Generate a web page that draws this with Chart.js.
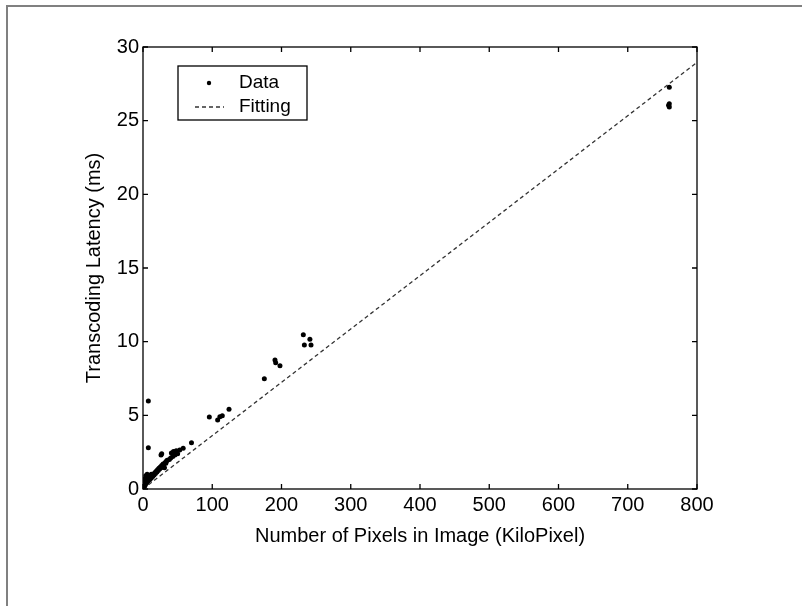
<!DOCTYPE html>
<html>
<head>
<meta charset="utf-8">
<script src="https://cdn.jsdelivr.net/npm/chart.js@4/dist/chart.umd.min.js"></script>
<style>
  html, body { margin: 0; padding: 0; background: #fff; }
  #wrap { width: 802px; height: 606px; }
</style>
</head>
<body>
<div id="wrap"><canvas id="myChart" width="802" height="606"></canvas></div>
<script>
// measured points (KiloPixel, ms)
const dataX = [0.5, 1, 1.5, 2, 2, 2.5, 3, 3, 3.5, 4, 4, 5, 5, 5.5, 6, 6, 7, 7, 8, 8,
  9, 10, 10, 11, 12, 12, 13, 14, 15, 16, 17, 18, 19, 20, 21, 22, 23, 24, 25, 26,
  27, 28, 29, 30, 31, 32, 33, 34, 35, 26, 27, 38, 40, 41, 43, 44, 46, 48, 50, 53,
  58, 70, 7.7, 7.7, 95.8, 107.8, 111, 114.5, 124.2, 175.2, 190.6, 191.6, 197.8,
  231.5, 241, 233, 242.6, 760, 759, 760, 760];
const dataY = [0.1, 0.15, 0.2, 0.3, 0.5, 0.2, 0.4, 0.7, 0.3, 0.5, 0.9, 0.4, 0.6, 0.8, 0.5, 1.0, 0.55, 0.75, 0.6, 0.9,
  0.7, 0.65, 0.9, 0.8, 0.75, 1.0, 0.9, 0.85, 1.0, 0.95, 1.1, 1.05, 1.2, 1.15, 1.3, 1.25, 1.4, 1.35, 1.5, 1.45,
  1.6, 1.55, 1.7, 1.65, 1.45, 1.8, 1.75, 1.9, 1.95, 2.3, 2.4, 2.0, 2.1, 2.45, 2.2, 2.55, 2.3, 2.6, 2.4, 2.65,
  2.76, 3.14, 2.8, 5.97, 4.89, 4.68, 4.91, 4.98, 5.41, 7.49, 8.76, 8.57, 8.37,
  10.47, 10.16, 9.77, 9.77, 27.27, 26.05, 25.92, 26.15];

// linear fitting line end points
const fitX = [0, 800];
const fitY = [0, 28.96];

const xTicks = [0, 100, 200, 300, 400, 500, 600, 700, 800];
const yTicks = [0, 5, 10, 15, 20, 25, 30];

const FONT = "'Liberation Sans', Arial, Helvetica, sans-serif";

const scatterPts = dataX.map((x, i) => ({x: x, y: dataY[i]}));
const fitPts = fitX.map((x, i) => ({x: x, y: fitY[i]}));

// grey frame of the scanned figure
const framePlugin = {
  id: 'frame',
  beforeDraw(chart) {
    const ctx = chart.ctx;
    ctx.save();
    ctx.fillStyle = '#fff';
    ctx.fillRect(0, 0, chart.width, chart.height);
    ctx.strokeStyle = '#808080';
    ctx.lineWidth = 2;
    ctx.beginPath();
    ctx.moveTo(7, chart.height);
    ctx.lineTo(7, 6);
    ctx.lineTo(chart.width, 6);
    ctx.stroke();
    ctx.restore();
  }
};

// matlab style box with inward ticks
const boxPlugin = {
  id: 'box',
  afterDatasetsDraw(chart) {
    const ctx = chart.ctx;
    const a = chart.chartArea;
    const xs = chart.scales.x, ys = chart.scales.y;
    ctx.save();
    ctx.strokeStyle = '#000';
    ctx.lineWidth = 1.3;
    ctx.strokeRect(a.left, a.top, a.right - a.left, a.bottom - a.top);
    ctx.beginPath();
    xTicks.forEach(v => {
      const px = xs.getPixelForValue(v);
      ctx.moveTo(px, a.bottom); ctx.lineTo(px, a.bottom - 5);
      ctx.moveTo(px, a.top); ctx.lineTo(px, a.top + 5);
    });
    yTicks.forEach(v => {
      const py = ys.getPixelForValue(v);
      ctx.moveTo(a.left, py); ctx.lineTo(a.left + 5, py);
      ctx.moveTo(a.right, py); ctx.lineTo(a.right - 5, py);
    });
    ctx.stroke();
    ctx.restore();
  }
};

// legend box in the upper left corner
const legendPlugin = {
  id: 'boxLegend',
  afterDraw(chart) {
    const ctx = chart.ctx;
    const ds = chart.data.datasets;
    ctx.save();
    ctx.fillStyle = '#fff';
    ctx.fillRect(178, 66, 129, 54);
    ctx.strokeStyle = '#000';
    ctx.lineWidth = 1.3;
    ctx.strokeRect(178, 66, 129, 54);
    ctx.fillStyle = '#000';
    ctx.beginPath();
    ctx.arc(209, 83, 2.2, 0, Math.PI * 2);
    ctx.fill();
    ctx.strokeStyle = '#333';
    ctx.lineWidth = 1.3;
    ctx.setLineDash([4, 3]);
    ctx.beginPath();
    ctx.moveTo(195, 107); ctx.lineTo(224, 107);
    ctx.stroke();
    ctx.setLineDash([]);
    ctx.font = '19px ' + FONT;
    ctx.textBaseline = 'middle';
    ctx.fillText(ds[0].label, 239, 83);
    ctx.fillText(ds[1].label, 239, 107);
    ctx.restore();
  }
};

const ctx = document.getElementById('myChart').getContext('2d');

new Chart(ctx, {
  type: 'scatter',
  data: {
    datasets: [{
      label: 'Data',
      data: scatterPts,
      backgroundColor: '#000',
      borderColor: '#000',
      pointRadius: 2.5,
      pointBorderWidth: 0
    }, {
      label: 'Fitting',
      type: 'line',
      data: fitPts,
      borderColor: '#333',
      borderWidth: 1.3,
      borderDash: [4, 3],
      pointRadius: 0,
      fill: false
    }]
  },
  options: {
    responsive: false,
    animation: false,
    layout: { padding: { left: 0, right: 105, top: 47, bottom: 0 } },
    plugins: {
      legend: { display: false },
      tooltip: { enabled: false }
    },
    scales: {
      x: {
        type: 'linear',
        min: 0,
        max: 800,
        afterFit(scale) { scale.height = 117; },
        afterBuildTicks(scale) { scale.ticks = xTicks.map(v => ({value: v})); },
        grid: { display: false, drawTicks: false },
        border: { display: false },
        ticks: { color: '#000', padding: 4, maxRotation: 0, font: { family: FONT, size: 20 } },
        title: {
          display: true,
          text: 'Number of Pixels in Image (KiloPixel)',
          color: '#000',
          font: { family: FONT, size: 20 },
          padding: { top: 0, bottom: 58 }
        }
      },
      y: {
        type: 'linear',
        min: 0,
        max: 30,
        afterFit(scale) { scale.width = 143; },
        afterBuildTicks(scale) { scale.ticks = yTicks.map(v => ({value: v})); },
        grid: { display: false, drawTicks: false },
        border: { display: false },
        ticks: { color: '#000', padding: 4, font: { family: FONT, size: 20 } },
        title: {
          display: true,
          text: 'Transcoding Latency (ms)',
          color: '#000',
          font: { family: FONT, size: 20 },
          padding: { top: 82, bottom: 0 }
        }
      }
    }
  },
  plugins: [framePlugin, boxPlugin, legendPlugin]
});
</script>
</body>
</html>
